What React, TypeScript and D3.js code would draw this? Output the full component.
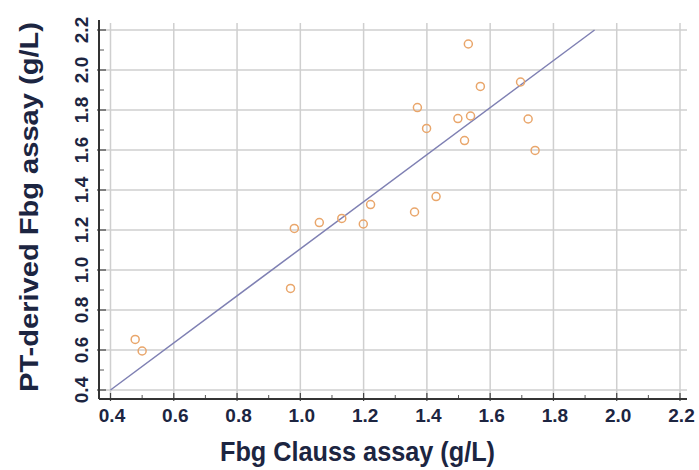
import React from "react";
import * as d3 from "d3";

const clauss = [1.531, 1.569, 1.696, 1.37, 1.498, 1.538, 1.399, 1.72, 1.519, 1.742, 1.429, 1.222, 1.361, 1.131, 1.199, 0.981, 1.06, 0.969, 0.478, 0.5];
const ptDerived = [2.13, 1.918, 1.94, 1.812, 1.757, 1.77, 1.708, 1.755, 1.647, 1.598, 1.367, 1.327, 1.29, 1.258, 1.23, 1.208, 1.237, 0.908, 0.653, 0.595];
const fitLine = [
  { x: 0.4, y: 0.4 },
  { x: 1.93, y: 2.2 },
];
const majorTicks = [0.4, 0.6, 0.8, 1.0, 1.2, 1.4, 1.6, 1.8, 2.0, 2.2];
const minorTicks = [0.5, 0.7, 0.9, 1.1, 1.3, 1.5, 1.7, 1.9, 2.1];
const xTitle = "Fbg Clauss assay (g/L)";
const yTitle = "PT-derived Fbg assay (g/L)";

export default function App() {
  const W = 699, H = 470;
  const x = d3.scaleLinear().domain([0.4, 2.2]).range([110.5, 680]);
  const y = d3.scaleLinear().domain([0.4, 2.2]).range([390, 30]);
  const axisX = 99, axisY = 399, plotRight = 687, plotTop = 23;
  const textColor = "#1c2541";
  const line = d3.line<{ x: number; y: number }>().x((d) => x(d.x)).y((d) => y(d.y));
  const fmt = d3.format(".1f");
  return (
    <svg width={W} height={H} style={{ position: "absolute", left: 0, top: 0, background: "#fff" }}
      fontFamily="'Liberation Sans', Arial, sans-serif">
      <rect x={0} y={0} width={W} height={H} fill="#fff" />
      {majorTicks.map((t) => (
        <line key={"gx" + t} x1={x(t)} x2={x(t)} y1={plotTop} y2={axisY} stroke="#cfcfcf" strokeWidth={1.5} />
      ))}
      {majorTicks.map((t) => (
        <line key={"gy" + t} x1={axisX} x2={plotRight} y1={y(t)} y2={y(t)} stroke="#cfcfcf" strokeWidth={1.5} />
      ))}
      {minorTicks.map((t) => (
        <line key={"mx" + t} x1={x(t)} x2={x(t)} y1={axisY} y2={axisY - 4} stroke="#555" strokeWidth={1} />
      ))}
      {minorTicks.map((t) => (
        <line key={"my" + t} x1={axisX} x2={axisX + 5} y1={y(t)} y2={y(t)} stroke="#555" strokeWidth={1} />
      ))}
      {majorTicks.map((t) => (
        <line key={"Mx" + t} x1={x(t)} x2={x(t)} y1={axisY + 2} y2={axisY - 6} stroke="#444" strokeWidth={1.2} />
      ))}
      {majorTicks.map((t) => (
        <line key={"My" + t} x1={axisX - 2} x2={axisX + 7} y1={y(t)} y2={y(t)} stroke="#444" strokeWidth={1.2} />
      ))}
      <line x1={axisX} x2={axisX} y1={20} y2={axisY} stroke="#333" strokeWidth={2} />
      <line x1={axisX} x2={plotRight} y1={axisY} y2={axisY} stroke="#333" strokeWidth={2} />
      <path d={line(fitLine) || ""} fill="none" stroke="#7f80b3" strokeWidth={1.5} />
      {clauss.map((cx, i) => (
        <circle key={"p" + i} cx={x(cx)} cy={y(ptDerived[i])} r={4} fill="none" stroke="#e9a66b" strokeWidth={1.5} />
      ))}
      {majorTicks.map((t) => (
        <text key={"lx" + t} x={x(t) + 1.5} y={422} textAnchor="middle" fontSize={19} fontWeight="bold" fill={textColor}>
          {fmt(t)}
        </text>
      ))}
      {majorTicks.map((t) => (
        <text key={"ly" + t} transform={`translate(88,${y(t)}) rotate(-90)`} textAnchor="middle" fontSize={19} fontWeight="bold" fill={textColor}>
          {fmt(t)}
        </text>
      ))}
      <text x={220} y={461} fontSize={27} fontWeight="bold" fill={textColor}
        textLength={275} lengthAdjust="spacingAndGlyphs">{xTitle}</text>
      <text transform="translate(38,392) rotate(-90)" fontSize={25} fontWeight="bold" fill={textColor}
        textLength={370} lengthAdjust="spacingAndGlyphs">{yTitle}</text>
    </svg>
  );
}
